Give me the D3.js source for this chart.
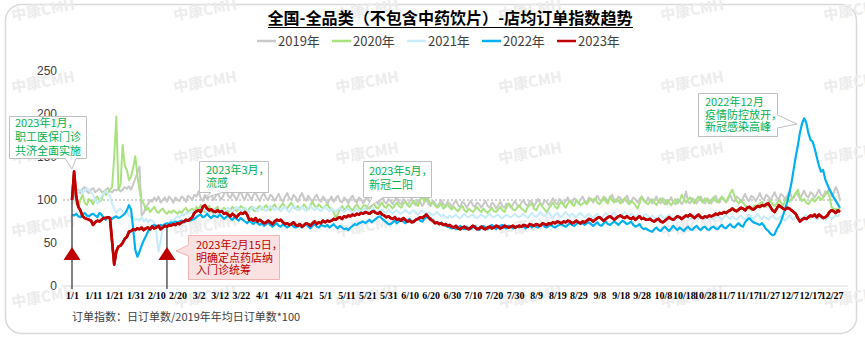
<!DOCTYPE html>
<html><head><meta charset="utf-8">
<script src="https://cdn.jsdelivr.net/npm/d3@7"></script>
<style>html,body{margin:0;padding:0;background:#fff;} svg{display:block;}</style>
</head><body>
<svg id="c" width="865" height="339"></svg>
<script>
// ---------------- DATA ----------------
const seriesNames = ["2019年","2020年","2021年","2022年","2023年"];
const seriesColors = ["#c8c8c8","#a8e27e","#c6ebfa","#00b0f0","#c00000"];
const yTicks = [0,50,100,150,200,250];
const xTickLabels = ["1/1","1/11","1/21","1/31","2/10","2/20","3/2","3/12","3/22","4/1","4/11","4/21","5/1","5/11","5/21","5/31","6/10","6/20","6/30","7/10","7/20","7/30","8/9","8/19","8/29","9/8","9/18","9/28","10/8","10/18","10/28","11/7","11/17","11/27","12/7","12/17","12/27"];

const s2019 = [
100,104,110,112,108,113,115,110,108,112,114,109,111,113,110,108,112,114,110,109,112,111,113,110,112,115,113,116,112,118,125,
132,139,82,85,92,95,100,98,103,99,104,97,100,103,98,104,101,97,103,100,99,104,102,98,105,103,100,106,
104,110,102,99,106,101,104,108,100,104,109,103,101,107,112,105,102,108,104,100,106,110,103,101,108,105,100,106,109,103,99,
105,108,102,100,106,104,99,103,107,101,98,104,108,102,100,106,103,98,104,108,102,99,105,101,97,103,106,100,98,104,
101,95,100,104,98,102,105,99,97,103,100,96,102,105,99,97,103,101,96,100,104,98,96,102,100,95,99,103,98,96,101,
99,95,100,103,97,95,101,99,94,98,102,96,94,100,98,93,97,101,95,93,99,97,92,96,100,95,93,98,96,92,
96,100,94,92,98,96,91,95,99,94,92,97,95,91,95,99,93,91,97,95,90,94,98,93,91,96,95,91,95,99,94,
92,97,100,95,93,99,97,93,97,101,96,94,100,98,94,98,102,97,95,101,99,95,99,103,98,96,102,100,96,100,104,
99,97,103,101,97,101,105,100,98,104,102,98,102,106,100,98,104,102,97,101,105,99,97,103,101,97,101,104,99,97,
103,100,96,100,104,98,96,102,100,95,99,103,97,95,101,99,95,99,110,98,96,102,100,96,100,104,98,96,102,100,96,
100,105,99,97,103,101,97,101,106,100,98,104,102,98,102,107,101,99,105,103,99,103,108,102,100,106,104,100,104,109,
103,101,107,105,101,105,110,104,102,108,106,102,106,111,105,103,109,107,103,107,112,106,104,110,108,114,104,108,115,110,100
];
const s2020 = [
98,104,96,92,100,106,97,94,101,99,95,102,104,98,100,110,106,108,112,115,150,197,112,118,164,140,135,123,127,138,151,
128,112,100,96,88,91,86,89,92,87,85,88,90,86,84,87,85,88,86,84,87,85,89,91,86,88,90,87,
92,89,94,88,86,91,93,87,85,90,92,86,88,91,89,86,88,92,90,87,89,93,91,88,86,90,92,88,87,91,93,
89,91,94,90,88,92,95,91,89,93,96,92,90,94,97,92,90,93,89,92,95,91,89,94,98,93,91,95,92,90,
93,95,91,90,86,79,84,90,93,89,91,94,90,88,92,95,91,89,93,94,91,90,93,96,92,90,94,97,92,91,95,
93,90,94,97,93,91,96,98,94,92,96,99,95,93,100,104,98,108,100,95,97,94,91,93,96,90,92,95,91,89,
92,89,87,91,93,88,86,90,88,86,89,92,88,86,90,87,85,88,91,87,86,89,92,88,86,92,96,93,89,88,91,
94,90,88,86,92,94,96,90,88,93,96,92,89,86,90,94,97,92,90,95,98,94,91,96,99,95,93,100,97,94,96,
98,95,99,101,100,102,97,95,99,103,98,96,104,100,97,101,99,96,100,102,98,95,99,97,94,90,96,104,100,97,
95,98,101,97,94,99,102,98,95,100,97,94,98,101,96,99,106,101,97,100,103,99,96,101,104,100,97,102,99,96,100,
103,99,97,101,104,100,98,103,108,112,104,99,96,100,97,94,92,90,88,91,94,92,96,98,94,92,97,99,95,93,
96,100,97,94,99,102,98,101,104,108,112,103,99,101,97,95,99,102,98,101,104,100,103,106,110,104,92,89,90,88,91
];
const s2021 = [
95,100,106,110,112,108,111,114,112,109,106,100,96,99,104,108,110,108,104,96,90,85,88,90,86,84,86,82,80,79,77,
78,76,80,75,78,74,77,76,73,62,40,52,69,71,69,73,77,75,79,81,80,83,82,85,84,86,85,87,
86,88,85,87,89,86,84,88,90,85,84,87,89,86,88,91,88,86,89,92,90,87,89,91,88,86,90,92,89,87,90,
92,89,87,90,93,90,88,91,89,87,90,92,88,86,90,93,91,88,90,92,89,87,91,93,90,88,91,89,87,90,
92,89,87,90,88,86,89,91,88,86,89,90,87,85,88,90,87,86,89,91,88,86,88,90,87,85,87,89,86,85,88,
86,84,87,88,85,84,86,89,86,84,87,88,85,83,86,88,85,84,86,84,82,84,86,83,81,83,80,79,82,80,
81,83,80,79,82,84,81,80,82,83,80,79,81,83,81,79,82,84,81,80,82,83,80,79,81,83,81,80,82,84,81,
80,82,84,81,79,82,85,82,80,83,86,83,81,84,86,82,80,83,85,82,80,83,86,83,81,84,82,80,83,85,82,
80,82,84,81,79,82,84,81,79,82,85,82,80,83,85,81,79,82,84,86,83,81,84,82,80,83,81,79,82,84,
81,79,82,80,78,81,83,80,78,81,83,80,78,80,82,79,77,80,82,79,77,80,83,80,78,81,79,77,80,82,79,
77,80,82,79,77,80,83,80,78,81,79,77,80,82,79,77,80,83,80,78,81,84,80,78,81,79,77,80,82,79,
77,79,81,78,76,79,82,79,77,80,82,79,77,80,83,80,78,81,79,77,80,82,79,77,79,81,78,80,82,81,83
];
const s2022 = [
83,82,84,81,80,83,85,82,81,83,84,82,80,85,83,79,77,80,79,78,80,81,79,80,82,84,88,94,89,66,42,
34,40,47,53,58,63,68,70,71,70,69,71,70,72,73,72,74,73,75,74,75,76,74,75,77,76,77,78,
80,82,83,80,81,84,81,79,82,81,80,83,81,78,80,82,79,77,80,78,76,79,77,75,73,76,74,72,75,73,71,
73,70,72,74,71,69,71,73,70,69,72,70,68,70,72,69,68,69,71,68,70,72,69,67,70,72,69,68,71,70,
69,71,68,70,72,69,67,70,68,66,67,65,68,70,72,71,73,74,75,73,75,77,74,76,78,80,81,78,76,74,72,
72,74,76,73,75,77,75,73,76,78,75,74,77,79,76,75,78,80,79,79,76,74,73,72,74,72,70,69,68,67,
68,66,68,70,67,66,69,67,66,68,70,67,65,68,70,68,66,69,71,68,66,69,70,71,68,67,70,69,67,68,70,
68,70,69,67,69,71,68,70,69,68,70,72,69,68,70,71,69,68,70,71,72,70,69,71,73,71,70,72,74,72,73,
71,73,74,72,70,72,74,71,70,73,75,72,71,73,75,73,71,74,76,74,72,73,75,71,69,70,72,68,66,67,
65,64,63,66,68,65,64,67,69,66,64,67,70,67,65,68,66,64,67,69,66,65,68,70,67,65,68,69,66,65,68,
69,67,66,69,71,68,67,70,72,69,68,71,73,70,69,74,77,79,76,74,73,72,71,73,70,66,64,61,59,60,
66,70,75,82,90,98,108,120,135,150,163,178,189,195,190,178,170,168,160,150,140,133,135,124,118,112,108,103,99,95,91
];
const s2023 = [
100,133,104,92,88,81,79,78,77,76,71,74,76,75,77,79,79,80,79,52,25,40,46,47,50,55,57,63,64,66,65,
67,66,68,65,67,68,66,69,67,68,70,66,68,70,69,71,70,72,71,73,72,74,75,77,76,78,80,85,
87,88,86,92,94,90,88,89,87,86,88,86,87,84,85,83,81,84,82,80,83,85,84,86,83,77,78,76,79,75,77,
75,73,74,76,74,72,75,77,76,77,74,72,73,71,72,74,71,70,72,69,71,73,72,70,73,75,72,74,73,76,
74,76,75,76,78,77,79,80,78,81,80,82,81,83,82,84,83,85,84,86,85,84,86,87,85,84,86,83,82,80,81,
79,78,80,77,78,76,79,77,75,76,74,75,77,78,80,79,81,83,80,77,76,73,74,72,73,71,72,70,71,69,
68,70,67,66,68,69,67,66,68,70,68,66,67,69,67,66,68,69,67,68,70,69,67,68,70,69,68,69,70,68,69,
70,69,71,70,69,72,71,70,72,71,70,73,72,71,73,72,74,73,75,74,73,75,74,76,75,73,74,76,74,73,75,
74,76,78,77,75,77,79,80,78,76,78,80,81,79,77,79,81,82,80,79,81,79,78,80,77,79,81,78,79,77,
77,78,76,75,77,78,75,74,76,78,80,78,77,79,81,80,78,80,82,81,83,81,79,81,83,80,79,81,80,82,81,
82,84,83,85,84,86,85,87,88,90,88,87,89,91,90,88,91,92,90,89,91,93,92,94,93,95,96,92,88,86,
90,94,92,90,89,91,90,88,86,84,79,75,77,79,78,80,82,81,83,80,83,81,79,80,82,86,88,87,85,88,86
];
const seriesValues = [s2019, s2020, s2021, s2022, s2023];
const markerDays = [0, 45];   // 1/1, 2/15

// ---------------- DRAW ----------------
const CJK = "'Noto Sans CJK SC','Noto Sans',sans-serif";
const svg = d3.select("#c");

svg.append("rect").attr("x",5.5).attr("y",4.5).attr("width",851).attr("height",329)
  .attr("rx",16).attr("fill","#fff").attr("stroke","#d9d9d9").attr("stroke-width",1.5);

// watermarks
const wmRows = [10,82,153,226,297], wmCols = [43,205,367,530,692,855];
const wm = svg.append("g");
wmRows.forEach(r => wmCols.forEach(c => {
  wm.append("text").attr("x",c).attr("y",r).attr("text-anchor","middle").attr("dy","0.35em")
    .attr("transform",`rotate(-10,${c},${r})`)
    .style("font-family",CJK).style("font-weight","bold").style("font-size","15px")
    .style("fill","#ececec").text("中康CMH");
}));

const x = d3.scaleLinear().domain([0,364]).range([72,840]);
const y = d3.scaleLinear().domain([0,250]).range([286,71]);

// title
svg.append("text").attr("x",450).attr("y",24).attr("text-anchor","middle")
  .attr("textLength",365).attr("lengthAdjust","spacingAndGlyphs")
  .style("font-family",CJK).style("font-weight","bold").style("font-size","16px").style("fill","#000")
  .text("全国-全品类（不包含中药饮片）-店均订单指数趋势");
svg.append("line").attr("x1",268).attr("x2",633).attr("y1",27.5).attr("y2",27.5)
  .attr("stroke","#000").attr("stroke-width",1);

// legend
const lg = svg.append("g");
seriesNames.forEach((n,i) => {
  const lx = 257 + i*75;
  lg.append("line").attr("x1",lx).attr("x2",lx+19).attr("y1",41).attr("y2",41)
    .attr("stroke",seriesColors[i]).attr("stroke-width",2.5);
  lg.append("text").attr("x",lx+21).attr("y",41).attr("dy","0.35em")
    .style("font-family",CJK).style("font-size","13px").style("fill","#404040").text(n);
});

// axes
const yAxis = svg.append("g").attr("transform","translate(60,0)")
  .call(d3.axisLeft(y).tickValues(yTicks).tickSize(0).tickPadding(3));
yAxis.select(".domain").remove();
yAxis.selectAll("text").style("font-family","'Liberation Sans',Arial,sans-serif")
  .style("font-size","12px").style("fill","#404040");

svg.append("line").attr("x1",x(0)-10).attr("x2",x(364)+8).attr("y1",y(0)).attr("y2",y(0))
  .attr("stroke","#d9d9d9").attr("stroke-width",1);
const xAxis = svg.append("g").attr("transform",`translate(0,${y(0)})`)
  .call(d3.axisBottom(x).tickValues(d3.range(0,361,10)).tickFormat((d,i)=>xTickLabels[i]).tickSize(0).tickPadding(6));
xAxis.select(".domain").remove();
xAxis.selectAll("text").style("font-family","'Liberation Serif','Times New Roman',serif")
  .style("font-weight","bold").style("font-size","10px").style("fill","#000");

// 100 reference line
svg.append("line").attr("x1",x(0)-9).attr("x2",x(364)+2).attr("y1",y(100)).attr("y2",y(100))
  .attr("stroke","#a6a6a6").attr("stroke-width",1).attr("stroke-dasharray","2,2");

// series
const line = d3.line().x((d,i)=>x(i)).y(d=>y(d));
const widths = [2,2,2,2.2,2.6];
seriesValues.forEach((vals,i) => {
  svg.append("path").datum(vals).attr("d",line).attr("fill","none")
    .attr("stroke",seriesColors[i]).attr("stroke-width",widths[i]).attr("stroke-linejoin","round");
});

// markers
markerDays.forEach(d => {
  const mx = x(d);
  svg.append("line").attr("x1",mx).attr("x2",mx).attr("y1",y(s2023[d])).attr("y2",y(0)+3)
    .attr("stroke","#595959").attr("stroke-width",1.5);
  svg.append("path").attr("d",`M${mx},${247} L${mx+8.5},${260} L${mx-8.5},${260} Z`).attr("fill","#c00000");
});
// redraw red above markers
svg.append("path").datum(s2023).attr("d",line).attr("fill","none")
  .attr("stroke",seriesColors[4]).attr("stroke-width",widths[4]).attr("stroke-linejoin","round");

// callouts
function callout(path, fill, stroke, lines, tx, ty, color, lh) {
  const g = svg.append("g");
  g.append("path").attr("d",path).attr("fill",fill).attr("stroke",stroke).attr("stroke-width",1);
  lines.forEach((t,k)=>{
    g.append("text").attr("x",tx).attr("y",ty+k*lh).attr("dy","0.35em")
      .style("font-family",CJK).style("font-size","11px").style("fill",color).text(t);
  });
}
const G = "#00b050";
callout("M9.5,116.5 H86.5 V158.5 H76 L72,169 L65,158.5 H9.5 Z","#fff","#bfbfbf",
  ["2023年1月，","职工医保门诊","共济全面实施"],15,123.5,G,13.7);
callout("M199.5,161.5 H268.5 V192.5 H222 L204,198 L211,192.5 H199.5 Z","#fff","#bfbfbf",
  ["2023年3月，","流感"],206,170.5,G,13);
callout("M363.5,161.5 H431.5 V197.5 H383 L366,209 L372,197.5 H363.5 Z","#fff","#bfbfbf",
  ["2023年5月，","新冠二阳"],369,171.5,G,14);
callout("M698.5,93.5 H777.5 V115 L797,124 L777.5,128 V136.5 H698.5 Z","#fff","#bfbfbf",
  ["2022年12月","疫情防控放开，","新冠感染高峰"],705,102.5,G,12.5);
callout("M188.5,235.5 H279.5 V279.5 H188.5 V256 L176,251 L188.5,245 Z","#fbe2e2","#f2b3b3",
  ["2023年2月15日，","明确定点药店纳","入门诊统筹"],196,245,"#c00000",12.7);

// footnote
svg.append("text").attr("x",72).attr("y",317).attr("dy","0.35em")
  .style("font-family",CJK).style("font-size","11px").style("fill","#404040")
  .text("订单指数：日订单数/2019年年均日订单数*100");
</script>
</body></html>
